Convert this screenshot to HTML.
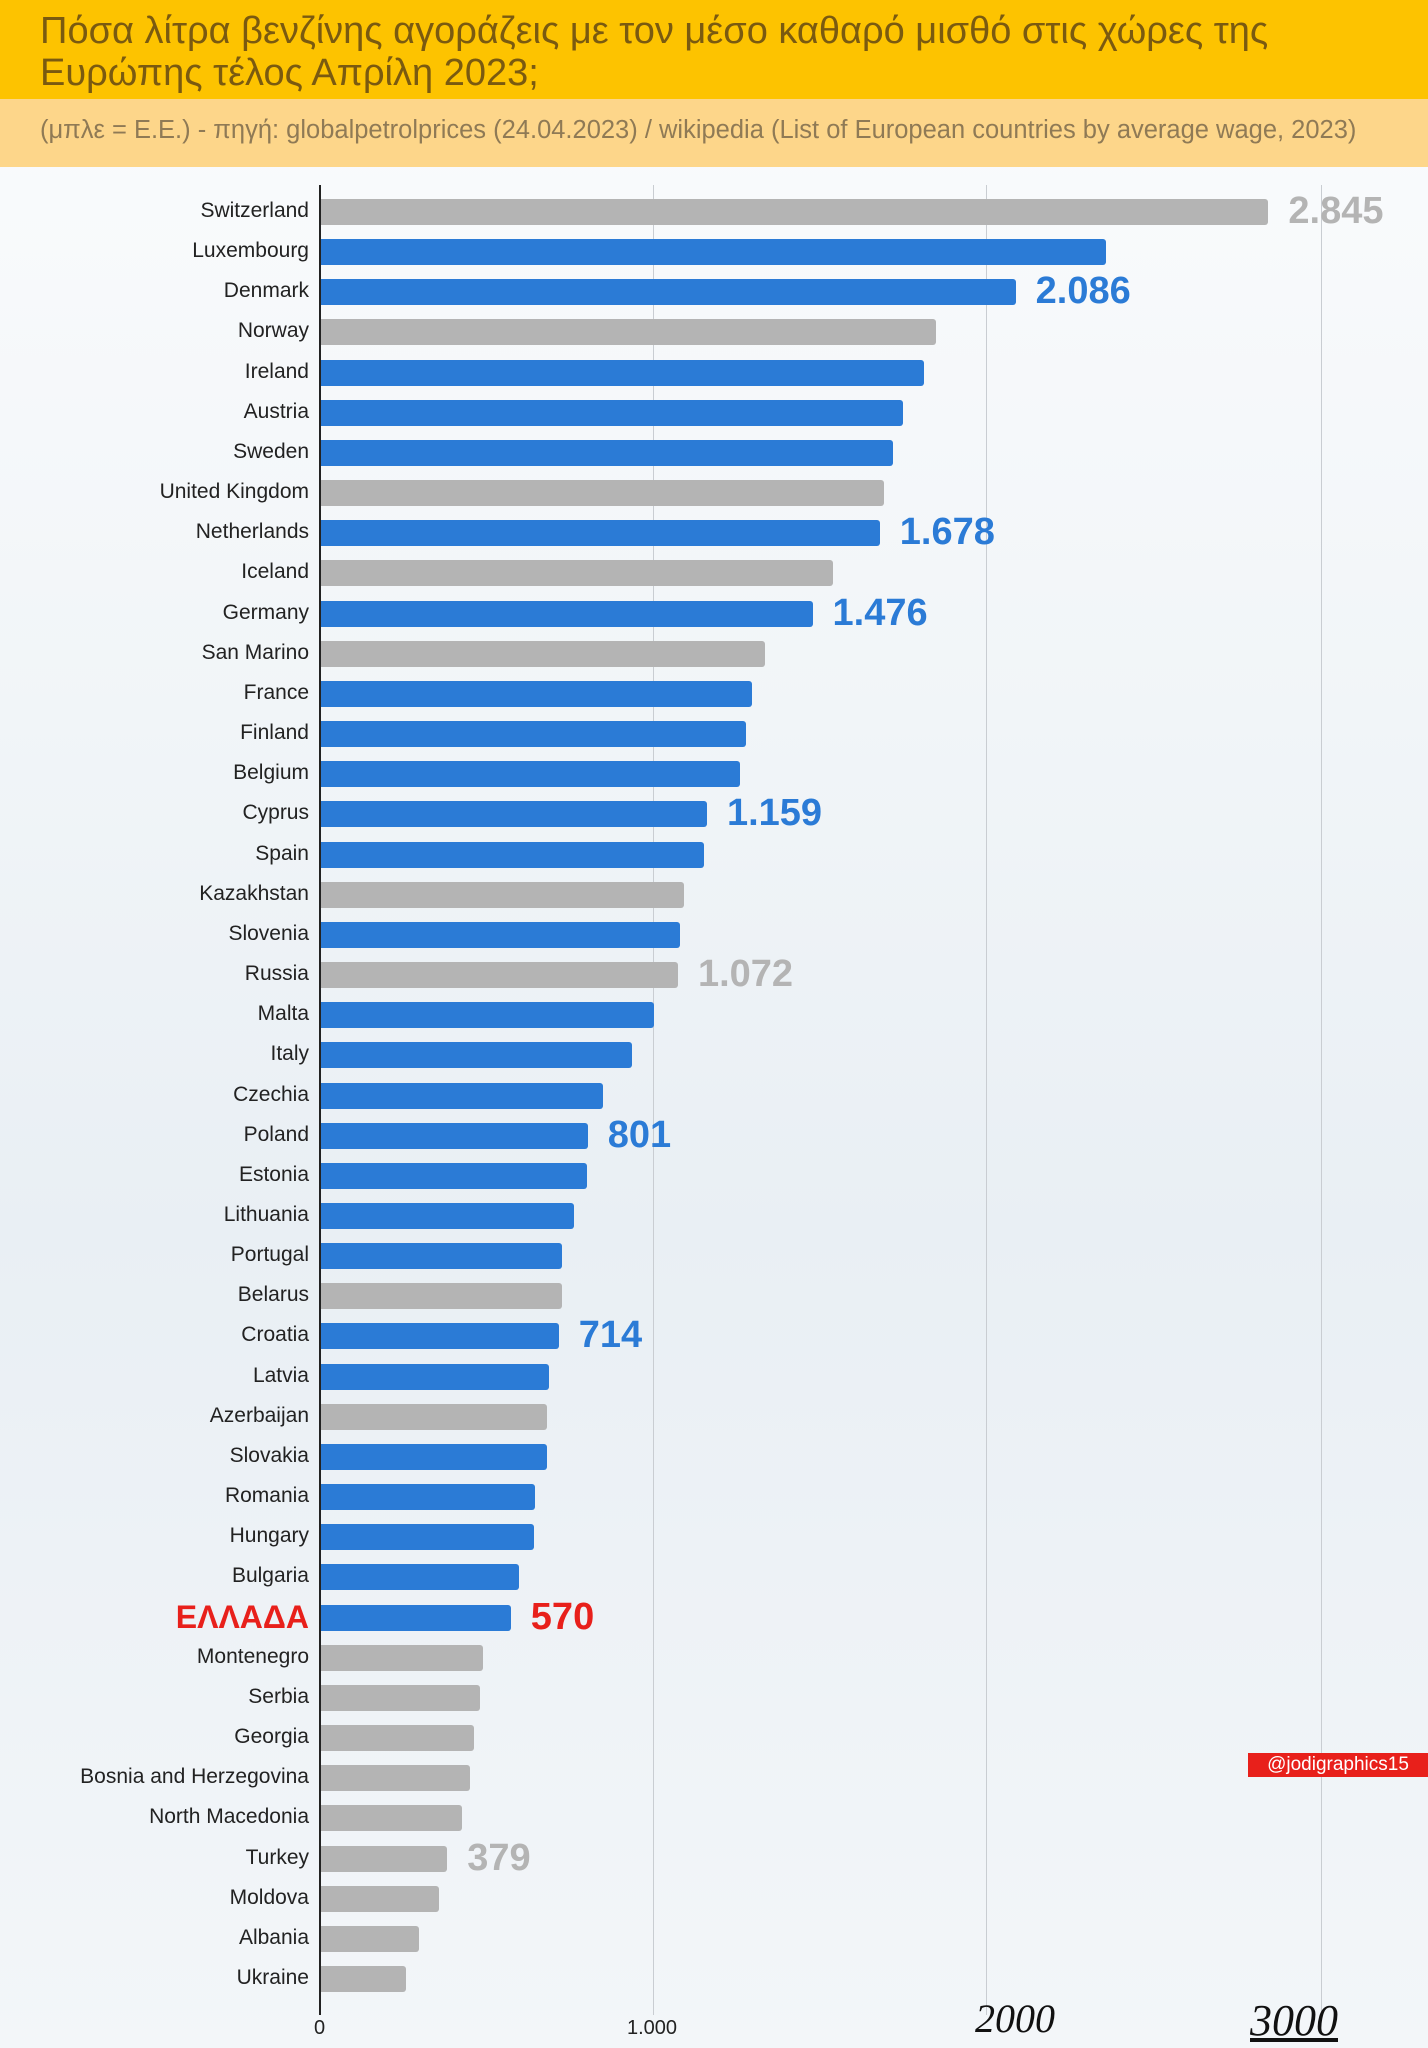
<!DOCTYPE html>
<html><head><meta charset="utf-8"><style>
body{margin:0;width:1428px;height:2048px;position:relative;overflow:hidden;font-family:"Liberation Sans","DejaVu Sans",sans-serif;background:linear-gradient(180deg,#fbfcfd 0%,#f1f5f8 35%,#e9eff4 60%,#f3f6f9 100%);}
.hdr{position:absolute;left:0;top:0;width:1428px;height:99px;background:#fdc300;}
.hdr div{position:absolute;left:40px;top:10px;font-size:38px;line-height:42px;color:#7a5a10;white-space:nowrap;}
.sub{position:absolute;left:0;top:99px;width:1428px;height:68px;background:#fdd68a;}
.sub div{position:absolute;left:40px;top:17px;font-size:25.5px;color:#8f7a55;white-space:nowrap;}
.grid{position:absolute;top:185px;height:1830px;width:1px;background:#c9cdd2;}
.axis{position:absolute;left:319px;top:185px;width:2px;height:1830px;background:#222;}
.lab{position:absolute;right:1119px;font-size:21px;color:#222;white-space:nowrap;text-align:right;}
.bar{position:absolute;left:321px;height:26px;border-radius:0 3px 3px 0;}
.val{position:absolute;font-weight:bold;font-size:38px;white-space:nowrap;}
.tick{position:absolute;top:2017px;font-size:20px;color:#222;}
.wm{position:absolute;left:1248px;top:1753px;width:180px;height:24px;background:#e8201b;color:#fff;font-size:19px;line-height:24px;text-align:center;}
</style></head><body>
<div class="hdr"><div>Πόσα λίτρα βενζίνης αγοράζεις με τον μέσο καθαρό μισθό στις χώρες της<br>Ευρώπης τέλος Απρίλη 2023;</div></div>
<div class="sub"><div>(μπλε = Ε.Ε.) - πηγή: globalpetrolprices (24.04.2023) / wikipedia (List of European countries by average wage, 2023)</div></div>
<div class="grid" style="left:653px"></div>
<div class="grid" style="left:986px"></div>
<div class="grid" style="left:1321px"></div>
<div class="axis"></div>
<div id="c"></div>
<div class="tick" style="left:314px">0</div>
<div class="tick" style="left:627px">1.000</div>
<div style="position:absolute;left:975px;top:1995px;font-family:'Liberation Serif',serif;font-style:italic;font-size:40px;color:#111">2000</div>
<div style="position:absolute;left:1250px;top:1995px;font-family:'Liberation Serif',serif;font-style:italic;font-size:44px;color:#111;text-decoration:underline">3000</div>
<div class="wm">@jodigraphics15</div>
<script>
var d=[["Switzerland",2845,0,"2.845"],["Luxembourg",2357,1],["Denmark",2086,1,"2.086"],["Norway",1847,0],["Ireland",1812,1],["Austria",1749,1],["Sweden",1718,1],["United Kingdom",1690,0],["Netherlands",1678,1,"1.678"],["Iceland",1537,0],["Germany",1476,1,"1.476"],["San Marino",1333,0],["France",1294,1],["Finland",1275,1],["Belgium",1259,1],["Cyprus",1159,1,"1.159"],["Spain",1149,1],["Kazakhstan",1090,0],["Slovenia",1078,1],["Russia",1072,0,"1.072"],["Malta",1000,1],["Italy",933,1],["Czechia",847,1],["Poland",801,1,"801"],["Estonia",800,1],["Lithuania",761,1],["Portugal",725,1],["Belarus",725,0],["Croatia",714,1,"714"],["Latvia",686,1],["Azerbaijan",678,0],["Slovakia",678,1],["Romania",643,1],["Hungary",639,1],["Bulgaria",596,1],["ΕΛΛΑΔΑ",570,1,"570"],["Montenegro",486,0],["Serbia",478,0],["Georgia",459,0],["Bosnia and Herzegovina",447,0],["North Macedonia",424,0],["Turkey",379,0,"379"],["Moldova",353,0],["Albania",294,0],["Ukraine",255,0]];
var h="";
d.forEach(function(r,i){var cy=212+i*40.16;var w=r[1]*0.333;var g=r[0]=="ΕΛΛΑΔΑ";
var col=r[2]?"#2b7bd6":"#b4b4b4";
h+='<div class="lab" style="top:'+(cy-13)+'px;'+(g?'font-size:32px;font-weight:bold;color:#e8201b;top:'+(cy-19)+'px;':'')+'">'+r[0]+'</div>';
h+='<div class="bar" style="top:'+(cy-13)+'px;width:'+w+'px;background:'+col+'"></div>';
if(r[3])h+='<div class="val" style="left:'+(321+w+20)+'px;top:'+(cy-22)+'px;color:'+(g?'#e8201b':(r[2]?'#2b7bd6':'#b4b4b4'))+'">'+r[3]+'</div>';});
document.getElementById("c").innerHTML=h;
</script>
</body></html>
